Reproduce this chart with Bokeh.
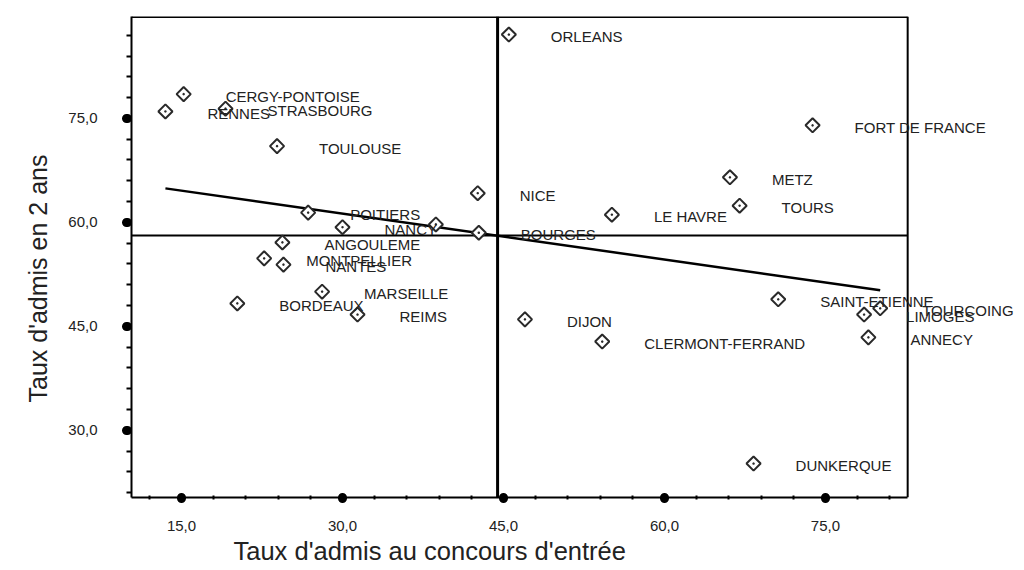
import numpy as np
from bokeh.plotting import figure
from bokeh.models import (ColumnDataSource, LabelSet, Span, FixedTicker, Title,
                          Range1d, CustomJSTickFormatter)
from bokeh.core.properties import value
from bokeh.embed import file_html
from bokeh.resources import INLINE

# ---- data ----
villes = ["ORLEANS", "CERGY-PONTOISE", "RENNES", "STRASBOURG", "TOULOUSE",
          "FORT DE FRANCE", "METZ", "TOURS", "LE HAVRE", "NICE", "POITIERS",
          "NANCY", "", "BOURGES", "ANGOULEME", "MONTPELLIER", "NANTES",
          "MARSEILLE", "BORDEAUX", "REIMS", "DIJON", "CLERMONT-FERRAND",
          "SAINT-ETIENNE", "LIMOGES", "TOURCOING", "ANNECY", "DUNKERQUE"]
taux_concours = [45.5, 15.2, 13.5, 19.1, 23.9,
                 73.8, 66.1, 67.0, 55.1, 42.6, 26.8,
                 30.0, 38.7, 42.7, 24.4, 22.7, 24.5,
                 28.1, 20.2, 31.4, 47.0, 54.2,
                 70.6, 78.6, 80.1, 79.0, 68.3]
taux_2ans = [87.1, 78.5, 76.0, 76.4, 71.0,
             74.0, 66.5, 62.4, 61.1, 64.2, 61.4,
             59.3, 59.7, 58.5, 57.1, 54.8, 53.9,
             50.0, 48.3, 46.7, 46.0, 42.8,
             48.9, 46.7, 47.6, 43.4, 25.2]

x_ticks = [15, 30, 45, 60, 75]
x_tick_labels = ["15,0", "30,0", "45,0", "60,0", "75,0"]
y_ticks = [30, 45, 60, 75]
y_tick_labels = ["30,0", "45,0", "60,0", "75,0"]

moyenne_concours = 44.45
moyenne_2ans = 58.1
droite_x = [13.5, 80.1]
droite_y = [64.9, 50.2]

x_title = "Taux d'admis au concours d'entrée"
y_title = "Taux d'admis en 2 ans"

# axis box limits
X_LO, X_HI = 10.34, 82.66
Y_LO, Y_HI = 20.3, 89.7
X_VIEW_END = 92.8   # extra room on the right so that labels can run past the box

FONT = "Liberation Sans"
INK = "#222222"

src = ColumnDataSource(dict(ville=villes, x=taux_concours, y=taux_2ans))

p = figure(width=1016, height=570,
           x_range=Range1d(X_LO, X_VIEW_END), y_range=Range1d(Y_LO, Y_HI),
           output_backend="svg", toolbar_location=None,
           min_border_left=131, min_border_right=0,
           min_border_top=16, min_border_bottom=73)
p.xgrid.visible = False
p.ygrid.visible = False
p.outline_line_color = None
p.background_fill_color = "white"
p.border_fill_color = "white"

# box: right and top edges
p.add_layout(Span(location=X_HI, dimension="height",
                  line_color="black", line_width=2, level="underlay"))
p.line([X_LO, X_HI], [Y_HI, Y_HI], line_color="black", line_width=3)

# reference lines (means)
p.add_layout(Span(location=moyenne_concours, dimension="height",
                  line_color="black", line_width=3, level="underlay"))
p.line([X_LO, X_HI], [moyenne_2ans, moyenne_2ans], line_color="black", line_width=2)

# regression line
p.line(droite_x, droite_y, line_color="black", line_width=2.5)

# points
p.scatter(x="x", y="y", source=src, marker="square_dot", size=10,
          angle=np.pi / 4, fill_color="white", line_color="#2a2a2a",
          line_width=2)

labels = LabelSet(x="x", y="y", text="ville", source=src,
                  x_offset=42, y_offset=-2, text_baseline="middle",
                  text_align="left", text_font=value(FONT),
                  text_font_size="15px", text_color=INK)
p.add_layout(labels)

# axes
xa = p.xaxis[0]
ya = p.yaxis[0]
xa.bounds = (X_LO, X_HI)
xa.ticker = FixedTicker(ticks=x_ticks,
                        minor_ticks=[v for v in range(12, 83, 3) if v not in x_ticks])
ya.ticker = FixedTicker(ticks=y_ticks,
                        minor_ticks=[v for v in range(21, 90, 3) if v not in y_ticks])
xa.formatter = CustomJSTickFormatter(args=dict(t=x_ticks, l=x_tick_labels), code="""
    const i = t.indexOf(tick); return i >= 0 ? l[i] : tick.toFixed(1).replace('.', ',');""")
ya.formatter = CustomJSTickFormatter(args=dict(t=y_ticks, l=y_tick_labels), code="""
    const i = t.indexOf(tick); return i >= 0 ? l[i] : tick.toFixed(1).replace('.', ',');""")

for ax in (xa, ya):
    ax.axis_line_color = "black"
    ax.axis_line_width = 2
    ax.major_tick_line_color = "black"
    ax.major_tick_line_width = 9
    ax.major_tick_line_cap = "round"
    ax.minor_tick_line_color = "black"
    ax.minor_tick_line_width = 2
    ax.major_label_text_font = FONT
    ax.major_label_text_font_size = "15px"
    ax.major_label_text_color = INK

xa.major_tick_in = 0
xa.major_tick_out = 1
xa.minor_tick_in = 2
xa.minor_tick_out = 2
xa.major_label_standoff = 21

ya.major_tick_in = -4
ya.major_tick_out = 5
ya.minor_tick_in = 0
ya.minor_tick_out = 5
ya.major_label_standoff = 29

p.add_layout(Title(text=y_title, align="left", offset=95, standoff=27,
                   text_font=FONT, text_font_size="25px",
                   text_font_style="normal", text_color=INK), "left")

p.add_layout(Title(text=x_title, align="left", offset=102, standoff=3,
                   text_font=FONT, text_font_size="25.5px",
                   text_font_style="normal", text_color=INK), "below")

open("out.html", "w").write(file_html(p, INLINE))
